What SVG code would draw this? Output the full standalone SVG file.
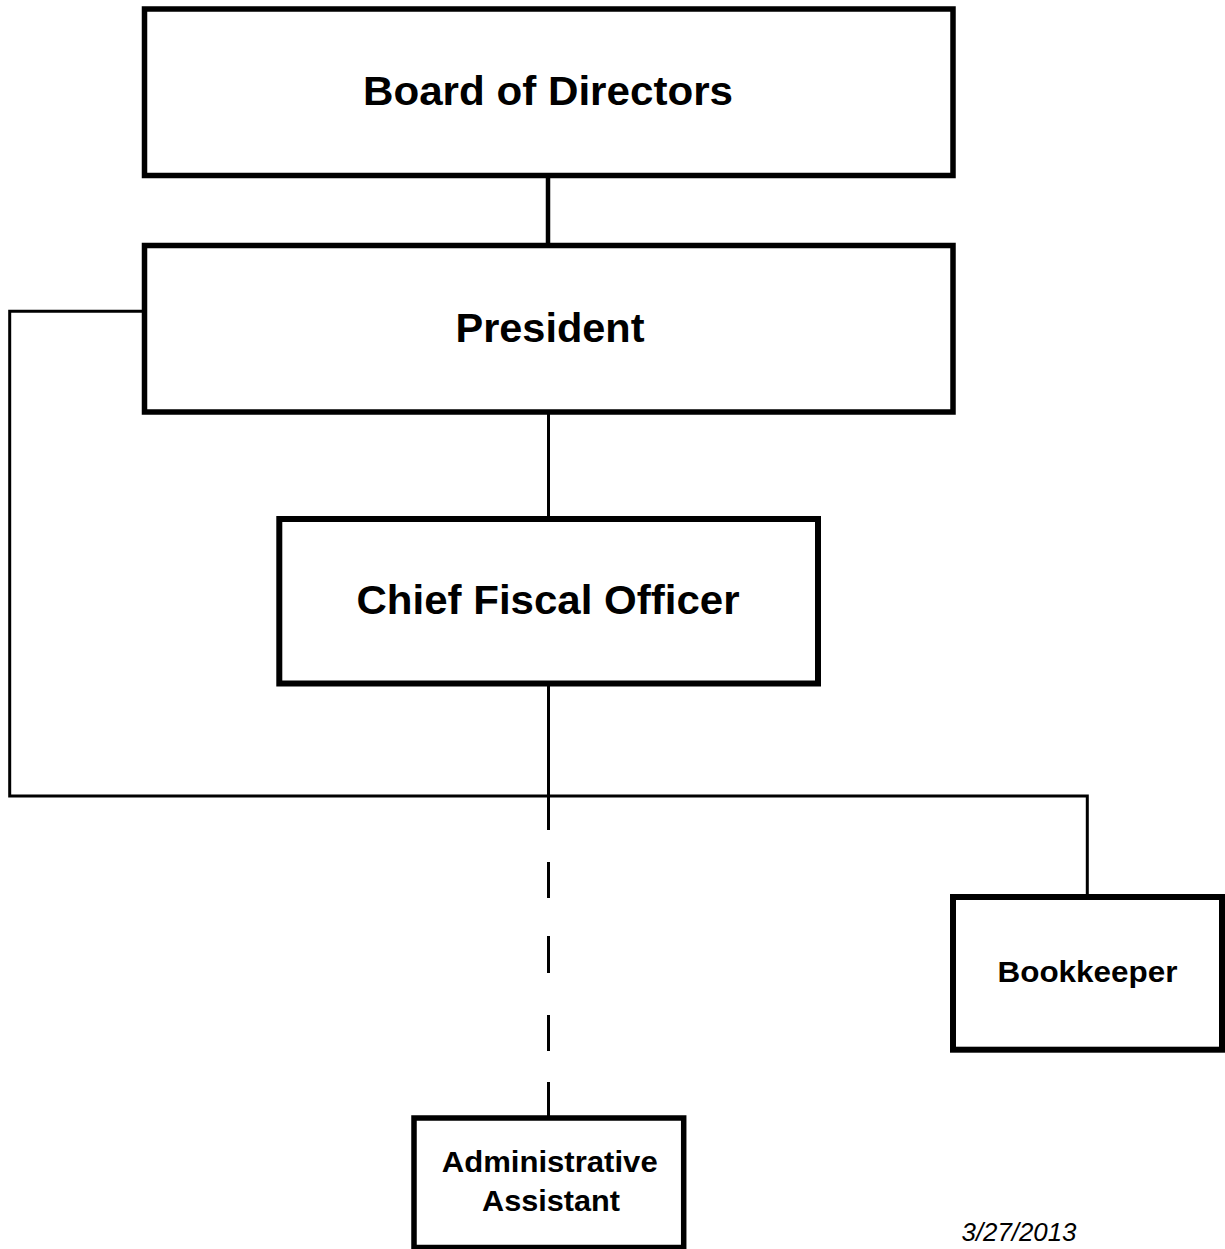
<svg xmlns="http://www.w3.org/2000/svg" width="1225" height="1249" viewBox="0 0 1225 1249">
<style>
.box{fill:#fff;stroke:#000;stroke-width:5.5}
.ln{fill:none;stroke:#000;stroke-width:3}
.t{font-family:"Liberation Sans",Arial,sans-serif;font-weight:bold;fill:#000;text-anchor:middle}
.d{font-family:"Liberation Sans",Arial,sans-serif;font-style:italic;fill:#000;text-anchor:middle}
</style>
<rect width="1225" height="1249" fill="#fff"/>
<g id="connectors">
<line class="ln" x1="548" y1="175" x2="548" y2="246" style="stroke-width:4.5"/>
<line class="ln" x1="548.5" y1="412" x2="548.5" y2="519"/>
<polyline class="ln" points="144.5,311.3 9.7,311.3 9.7,796 1087.3,796 1087.3,897"/>
<line class="ln" x1="548.5" y1="683.5" x2="548.5" y2="830"/>
<line class="ln" x1="548.5" y1="862" x2="548.5" y2="898"/>
<line class="ln" x1="548.5" y1="936" x2="548.5" y2="973"/>
<line class="ln" x1="548.5" y1="1015" x2="548.5" y2="1051"/>
<line class="ln" x1="548.5" y1="1082" x2="548.5" y2="1118"/>
</g>
<g id="board">
<rect class="box" x="144.5" y="9" width="808.5" height="166.5"/>
<text class="t" x="548" y="105" font-size="41" textLength="370" lengthAdjust="spacingAndGlyphs">Board of Directors</text>
</g>
<g id="president">
<rect class="box" x="144.5" y="245.5" width="808.5" height="166.5"/>
<text class="t" x="550" y="342" font-size="41" textLength="189" lengthAdjust="spacingAndGlyphs">President</text>
</g>
<g id="cfo">
<rect class="box" x="279.3" y="519" width="538.7" height="164.5" style="stroke-width:6"/>
<text class="t" x="548" y="614" font-size="41" textLength="383" lengthAdjust="spacingAndGlyphs">Chief Fiscal Officer</text>
</g>
<g id="bookkeeper">
<rect class="box" x="953" y="897" width="269" height="152.7" style="stroke-width:6"/>
<text class="t" x="1087.5" y="982" font-size="29" textLength="180" lengthAdjust="spacingAndGlyphs">Bookkeeper</text>
</g>
<g id="admin">
<rect class="box" x="414" y="1118" width="269.7" height="129.5"/>
<text class="t" x="549.7" y="1172" font-size="30" textLength="216" lengthAdjust="spacingAndGlyphs">Administrative</text>
<text class="t" x="551" y="1211" font-size="30" textLength="138" lengthAdjust="spacingAndGlyphs">Assistant</text>
</g>
<text class="d" x="1019" y="1241" font-size="26" textLength="115" lengthAdjust="spacingAndGlyphs">3/27/2013</text>
</svg>
